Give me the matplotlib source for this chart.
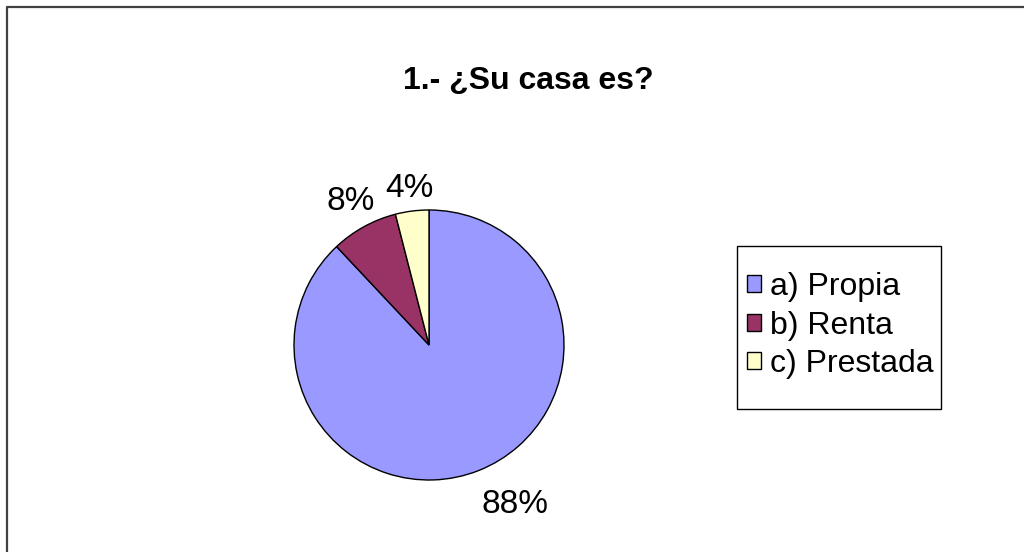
import numpy as np
import matplotlib
matplotlib.use("Agg")
import matplotlib.pyplot as plt
from matplotlib.patches import Rectangle
from matplotlib.lines import Line2D

plt.rcParams['font.family'] = ['Liberation Sans', 'DejaVu Sans']

title = "1.- ¿Su casa es?"
categories = ["a) Propia", "b) Renta", "c) Prestada"]
values = [88, 8, 4]
colors = ["#9999FF", "#993366", "#FFFFCC"]

W, H = 1024, 552
fig = plt.figure(figsize=(W / 100, H / 100), dpi=100)

# outer chart border (top and left visible)
fig.add_artist(Line2D([7 / W, 7 / W, 1.0], [0.0, 1 - 7 / H, 1 - 7 / H],
                      transform=fig.transFigure, color="#404040", lw=1.6))

fig.text(528 / W, 1 - 81 / H, title, ha="center", va="center",
         fontsize=23, fontweight="bold")

cx, cy, r = 429, 345, 135
ax = fig.add_axes([(cx - r) / W, (H - cy - r) / H, 2 * r / W, 2 * r / H])
wedges, texts, autotexts = ax.pie(
    values, colors=colors, startangle=90, counterclock=False,
    autopct=lambda p: f"{p:.0f}%", pctdistance=1.21,
    wedgeprops=dict(edgecolor="black", linewidth=1.0),
    textprops=dict(fontsize=24))
ax.set_xlim(-1, 1)
ax.set_ylim(-1, 1)
ax.set_aspect("equal")
ax.axis("off")

# push the big label a bit further out like the original
w0 = wedges[0]
ang = np.deg2rad((w0.theta1 + w0.theta2) / 2)
autotexts[0].set_position((1.27 * np.cos(ang) + 0.17, 1.27 * np.sin(ang)))
w2 = wedges[2]
ang2 = np.deg2rad((w2.theta1 + w2.theta2) / 2)
autotexts[2].set_position((1.17 * np.cos(ang2), 1.17 * np.sin(ang2)))

# legend box
fig.add_artist(Rectangle((737 / W, 1 - 409 / H), (941 - 737) / W, (409 - 246) / H,
                         transform=fig.transFigure, fill=False,
                         edgecolor="black", lw=1.0))
handles = [Rectangle((0, 0), 1, 1, facecolor=c, edgecolor="black", lw=1.0) for c in colors]
fig.legend(handles, categories, loc="upper left",
           bbox_to_anchor=(747 / W, 1 - 272 / H), bbox_transform=fig.transFigure,
           frameon=False, fontsize=23, borderpad=0, handlelength=0.44,
           handleheight=0.44, handletextpad=0.28, labelspacing=0.27,
           borderaxespad=0)

fig.savefig("out.png", dpi=100)
